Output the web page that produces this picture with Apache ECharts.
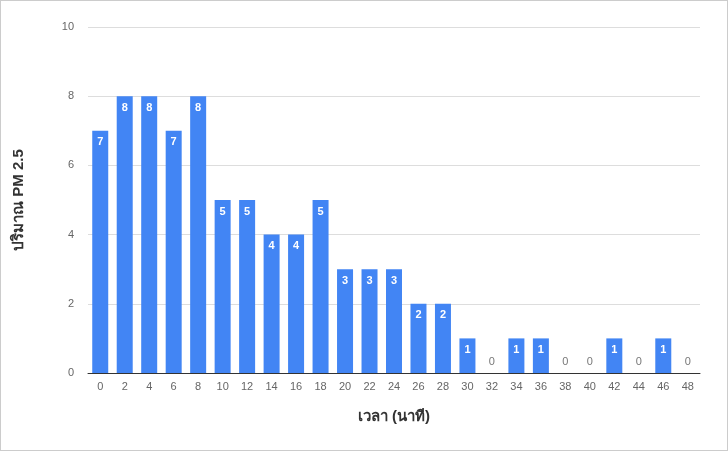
<!DOCTYPE html>
<html>
<head>
<meta charset="utf-8">
<script src="https://cdn.jsdelivr.net/npm/echarts@6/dist/echarts.min.js"></script>
<style>
  html, body { margin: 0; padding: 0; background: #fff; }
  #chart { width: 726px; height: 449px; border: 1px solid #ccc; }
</style>
</head>
<body>
<div id="chart"></div>
<script>
var minutes = ['0', '2', '4', '6', '8', '10', '12', '14', '16', '18', '20', '22', '24',
               '26', '28', '30', '32', '34', '36', '38', '40', '42', '44', '46', '48'];
var pm25 = [7, 8, 8, 7, 8, 5, 5, 4, 4, 5, 3, 3, 3, 2, 2, 1, 0, 1, 1, 0, 0, 1, 0, 1, 0];

var chart = echarts.init(document.getElementById('chart'));

var seriesData = pm25.map(function (v) {
    if (v === 0) {
        return { value: v, label: { position: 'top', color: '#777', fontWeight: 'normal' } };
    }
    return v;
});

var option = {
    animation: false,
    grid: { left: 87, right: 27, top: 26, bottom: 77 },
    xAxis: {
        type: 'category',
        data: minutes,
        name: 'เวลา (นาที)',
        nameLocation: 'middle',
        nameGap: 36,
        nameTextStyle: { fontSize: 15, fontWeight: 'bold', color: '#333' },
        axisTick: { show: false },
        axisLine: { lineStyle: { color: '#333' } },
        axisLabel: { color: '#666', fontSize: 11 }
    },
    yAxis: {
        type: 'value',
        min: 0,
        max: 10,
        interval: 2,
        name: 'ปริมาณ PM 2.5',
        nameLocation: 'middle',
        nameGap: 62,
        nameTextStyle: { fontSize: 15, fontWeight: 'bold', color: '#333' },
        axisLabel: { color: '#666', fontSize: 11, margin: 14 },
        splitLine: { lineStyle: { color: '#ddd' } }
    },
    series: [{
        type: 'bar',
        data: seriesData,
        barWidth: 16,
        itemStyle: { color: '#4285f4' },
        label: {
            show: true,
            position: 'insideTop',
            distance: 6,
            color: '#fff',
            fontWeight: 'bold',
            fontSize: 11
        }
    }]
};
chart.setOption(option);
</script>
</body>
</html>
